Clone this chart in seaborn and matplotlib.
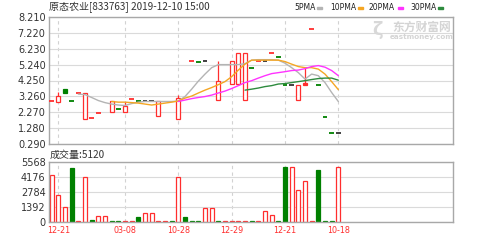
import numpy as np
import pandas as pd
import matplotlib
matplotlib.use("Agg")
import matplotlib.pyplot as plt
import seaborn as sns

sns.set_style("white")
plt.rcParams['font.family'] = ['Noto Sans CJK SC', 'DejaVu Sans']

nan = np.nan

# ---------------- data ----------------
slots = list(range(44))
opens = [2.97, 2.89, 3.70, 2.97, 3.45, 1.83, 1.93, 2.20, nan, 2.30, 2.45, 2.30, 3.07, 2.97, 2.97, 2.97,
         2.03, nan, nan, 1.83, nan, 5.48, 5.43, 5.48, nan, 3.03, nan, 4.01, 4.01, 3.03, 5.00, 5.46,
         5.46, 5.94, 5.72, 3.96, 3.96, 3.03, 4.10, 7.45, 3.96, 1.99, 0.96, 0.96]
closes = [2.97, 3.28, 3.48, 2.97, 3.45, 3.45, 1.93, 2.20, nan, 2.97, 2.45, 2.66, 3.07, 2.97, 2.97, 2.97,
          2.97, nan, nan, 3.13, nan, 5.48, 5.43, 5.48, nan, 4.21, nan, 5.46, 5.94, 5.94, 5.00, 5.46,
          5.46, 5.94, 5.72, 3.96, 3.96, 3.96, 3.96, 7.45, 3.96, 1.99, 0.96, 0.96]
highs = [2.97, 3.55, 3.70, 2.97, 3.45, 3.45, 1.93, 2.20, nan, 2.97, 2.45, 2.93, 3.07, 2.97, 2.97, 2.97,
         2.97, nan, nan, 3.34, nan, 5.48, 5.43, 5.48, nan, 5.48, nan, 5.46, 5.94, 5.94, 5.00, 5.46,
         5.46, 5.94, 5.72, 3.96, 3.96, 3.96, 5.00, 7.45, 3.96, 1.99, 0.96, 0.96]
lows = [2.97, 2.89, 3.48, 2.97, 3.45, 1.83, 1.93, 2.20, nan, 2.30, 2.45, 2.30, 3.07, 2.97, 2.97, 2.97,
        2.03, nan, nan, 1.83, nan, 5.48, 5.43, 5.48, nan, 3.03, nan, 4.01, 4.01, 3.03, 5.00, 5.46,
        5.46, 5.94, 5.72, 3.96, 3.96, 3.03, 3.96, 7.45, 3.96, 1.99, 0.96, 0.96]
candle_kind = ['r', 'r', 'g', 'g', 'r', 'r', 'r', 'r', '-', 'r', 'g', 'r', 'r', 'g', 'k', 'k',
               'r', '-', '-', 'r', '-', 'r', 'g', 'k', '-', 'r', '-', 'r', 'r', 'r', 'g', 'r',
               'k', 'r', 'g', 'g', 'k', 'r', 'rf', 'r', 'g', 'g', 'g', 'k']

ma5 = [nan, nan, nan, nan, 3.40, 3.37, 3.19, 3.00, 2.87, 2.78, 2.72, 2.69, 2.81, 2.90, 2.94, 2.94,
       2.94, 2.94, 2.94, 2.97, 3.25, 3.71, 4.21, 4.65, 5.05, 5.24, 5.24, 5.24, 5.24, 5.30, 5.52, 5.55,
       5.55, 5.55, 5.52, 5.33, 5.05, 4.74, 4.34, 4.65, 4.55, 4.12, 3.50, 2.94]
ma10 = [nan] * 9 + [2.94, 2.90, 2.90, 2.87, 2.84, 2.78, 2.72, 2.78, 2.84, 2.90, 2.97, 3.15, 3.28,
                    3.47, 3.65, 3.81, 3.99, 4.18, 4.49, 4.90, 5.27, 5.52, 5.52, 5.52, 5.52, 5.52,
                    5.43, 5.27, 5.12, 5.05, 5.05, 4.96, 4.65, 4.18, 3.68]
ma20 = [nan] * 19 + [2.94, 3.03, 3.12, 3.19, 3.25, 3.34, 3.47, 3.59, 3.75, 3.93, 4.12, 4.24, 4.40,
                     4.55, 4.68, 4.74, 4.80, 4.87, 4.90, 4.99, 5.12, 5.18, 5.08, 4.87, 4.55]
ma30 = [nan] * 29 + [3.65, 3.71, 3.78, 3.87, 3.93, 4.03, 4.06, 4.12, 4.18, 4.24, 4.31, 4.37, 4.40,
                     4.40, 4.27]

volume = [4378, 2500, 1350, 5060, 60, 4217, 160, 500, 500, 60, 60, 60, 60, 470, 787, 787,
          100, 60, 60, 4217, 470, 60, 60, 1312, 1255, 60, 60, 60, 60, 60, 60, 60,
          1000, 628, 60, 5150, 5150, 2970, 3813, 60, 4844, 60, 60, 5120]
volume_kind = ['r', 'r', 'r', 'g', 'r', 'r', 'g', 'r', 'r', 'g', 'g', 'r', 'r', 'g', 'r', 'r',
               'rf', 'r', 'g', 'r', 'g', 'g', 'g', 'r', 'r', 'g', 'r', 'r', 'r', 'r', 'g', 'r',
               'r', 'r', 'g', 'g', 'r', 'r', 'r', 'r', 'g', 'g', 'g', 'r']

date_slots = [1, 11, 19, 27, 35, 43]
date_labels = ['12-21', '03-08', '10-28', '12-29', '12-21', '10-18']
price_ticks = [0.290, 1.280, 2.270, 3.260, 4.250, 5.240, 6.230, 7.220, 8.210]
vol_ticks = [0, 1392, 2784, 4176, 5568]
ma_names = ['5PMA', '10PMA', '20PMA', '30PMA']
ma_colors = ['#b4b4b4', '#f5a623', '#ff33ff', '#2e8b3e']

RED = '#ff2e2e'
GREEN = '#008000'
DARK = '#333333'
GRID = '#dadada'
BORDER = '#a8a8a8'
kind_color = {'r': RED, 'rf': RED, 'g': GREEN, 'k': DARK}

# ---------------- figure ----------------
fig = plt.figure(figsize=(5.02, 2.40), dpi=100)
L, R = 49 / 502, 453 / 502
ax1 = fig.add_axes([L, 1 - 144 / 240, R - L, (144 - 17) / 240])
ax2 = fig.add_axes([L, 1 - 221.7 / 240, R - L, (221.7 - 162.3) / 240])

for ax in (ax1, ax2):
    ax.set_xlim(-0.4, 60.2)
    for s in ax.spines.values():
        s.set_color(BORDER)
        s.set_linewidth(1.0)
    ax.tick_params(length=0, pad=2.5, labelsize=7, colors='#333333')
    ax.grid(axis='y', color=GRID, lw=0.8, ls='-')
    ax.set_axisbelow(True)
    for ds in date_slots:
        ax.axvline(ds, color='#d2d2d2', lw=0.8, ls=(0, (3, 3)), zorder=0.5)

# price panel
ax1.set_ylim(0.29, 8.21)
ax1.set_yticks(price_ticks)
ax1.set_yticklabels([f"{t:.3f}" for t in price_ticks], family='DejaVu Sans')
ax1.set_xticks([])

W = 0.62
for i in slots:
    k = candle_kind[i]
    if k == '-' or np.isnan(opens[i]):
        continue
    o, c, h, lo = opens[i], closes[i], highs[i], lows[i]
    col = kind_color[k]
    top, bot = max(o, c), min(o, c)
    if h > top:
        ax1.vlines(i, top, h, color=col, lw=0.9, zorder=2)
    if lo < bot:
        ax1.vlines(i, lo, bot, color=col, lw=0.9, zorder=2)
    if abs(o - c) < 1e-9:
        ax1.hlines(o, i - 0.33, i + 0.33, color=col, lw=1.3, zorder=3)
    else:
        face = 'white' if k == 'r' else col
        ax1.bar(i, top - bot, bottom=bot, width=W, facecolor=face, edgecolor=col, lw=0.9, zorder=2)

for vals, name, col in zip([ma5, ma10, ma20, ma30], ma_names, ma_colors):
    df = pd.DataFrame({'slot': slots, 'ma': vals}).dropna()
    sns.lineplot(data=df, x='slot', y='ma', ax=ax1, color=col, lw=1.0, zorder=4, legend=False)
ax1.set_xlabel('')
ax1.set_ylabel('')

# volume panel
ax2.set_ylim(0, 5568)
ax2.set_yticks(vol_ticks)
ax2.set_yticklabels([str(t) for t in vol_ticks], family='DejaVu Sans')
for i in slots:
    k = volume_kind[i]
    col = kind_color[k]
    face = 'white' if (k == 'r' and volume[i] > 200) else col
    ax2.bar(i, volume[i], width=W, facecolor=face, edgecolor=col, lw=0.9, zorder=2)
ax2.set_xticks(date_slots)
ax2.set_xticklabels(date_labels, family='DejaVu Sans', fontsize=5.8, color='#ff2e2e')
ax2.tick_params(axis='x', pad=3)
ax2.set_xlabel('')
ax2.set_ylabel('')

# texts
fig.text(49 / 502, 1 - 7.5 / 240, '原态农业[833763] 2019-12-10 15:00', fontsize=7.2,
         color='#333333', va='center', ha='left')
fig.text(50 / 502, 1 - 154.5 / 240, '成交量:5120', fontsize=7.2, color='#333333',
         va='center', ha='left')

leg_x = [294, 330, 369, 410]
mark_x = [317, 358, 398, 438]
for name, col, lx, mx in zip(ma_names, ma_colors, leg_x, mark_x):
    fig.text(lx / 502, 1 - 7.5 / 240, name, fontsize=5.5, family='DejaVu Sans',
             color='#222222', va='center', ha='left')
    fig.patches.append(matplotlib.patches.Rectangle((mx / 502, 1 - 9 / 240), 5 / 502, 2.5 / 240,
                                                     transform=fig.transFigure, color=col))

# watermark
fig.text(422 / 502, 1 - 27 / 240, '东方财富网', fontsize=8.5, fontweight='bold', color='#d4d4d4',
         va='center', ha='center')
fig.text(422 / 502, 1 - 37.5 / 240, 'eastmoney.com', fontsize=5.2, fontweight='bold',
         family='DejaVu Sans', color='#d4d4d4', va='center', ha='center')
fig.text(378 / 502, 1 - 30 / 240, '\u03b6', fontsize=13, fontweight='bold', family='DejaVu Sans',
         color='#d8d8d8', va='center', ha='center')

fig.savefig('out.png', dpi=100)
